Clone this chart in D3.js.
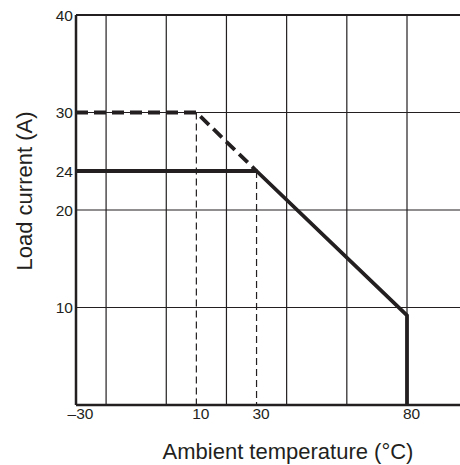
<!DOCTYPE html>
<html><head><meta charset="utf-8">
<script src="https://cdn.jsdelivr.net/npm/d3@7"></script>
<style>body{margin:0;background:#fff}svg{display:block}text{font-family:"Liberation Sans",Arial,sans-serif;fill:#231f20}</style>
</head><body>
<script>
const xTicks = [-30, 10, 30, 80];
const xGrid = [-20, 0, 20, 40, 60, 80];
const yTicks = [10, 20, 24, 30, 40];
const yGrid = [10, 20, 30, 40];
const solidTemp = [-30, 30, 80, 80];
const solidCurrent = [24, 24, 9.2, 0];
const dashedTemp = [-30, 10, 30];
const dashedCurrent = [30, 30, 24];
const guideTemp = [10, 30];
const guideCurrent = [30, 24];

const W = 460, H = 465;
const svg = d3.select("body").append("svg").attr("width", W).attr("height", H);
const x = d3.scaleLinear().domain([-30, 80]).range([76, 407]);
const y = d3.scaleLinear().domain([0, 40]).range([405, 15]);
const ink = "#231f20";

// grid
svg.append("g").selectAll("line").data(xGrid).join("line")
  .attr("x1", d => x(d)).attr("x2", d => x(d)).attr("y1", y(40)).attr("y2", y(0))
  .attr("stroke", ink).attr("stroke-width", 1.2);
svg.append("g").selectAll("line").data(yGrid).join("line")
  .attr("x1", x(-30)).attr("x2", W).attr("y1", d => y(d)).attr("y2", d => y(d))
  .attr("stroke", ink).attr("stroke-width", d => d === 40 ? 2 : 1.2);

// guide dashed verticals
svg.append("g").selectAll("line").data(guideTemp).join("line")
  .attr("x1", d => x(d)).attr("x2", d => x(d))
  .attr("y1", (d, i) => y(guideCurrent[i])).attr("y2", y(0))
  .attr("stroke", ink).attr("stroke-width", 1.2).attr("stroke-dasharray", "7,4");

// axes
const xAxis = d3.axisBottom(x).tickValues(xTicks).tickSize(0).tickFormat(d => d < 0 ? "\u2013" + Math.abs(d) : d);
const gx = svg.append("g").attr("transform", `translate(0,${y(0)})`).call(xAxis);
gx.select(".domain").attr("stroke", ink).attr("stroke-width", 2.5).attr("d", `M${x(-30)},0H${W}`);
gx.selectAll("text").attr("font-size", 15.5).attr("dy", 0).attr("y", 14).attr("dx", 4).attr("fill", ink);

const yAxis = d3.axisLeft(y).tickValues(yTicks).tickSize(0);
const gy = svg.append("g").attr("transform", `translate(${x(-30)},0)`).call(yAxis);
gy.select(".domain").attr("stroke", ink).attr("stroke-width", 2.5).attr("d", `M0,${y(40)}V${y(0)}`);
gy.selectAll("text").attr("font-size", 15.5).attr("x", -3).attr("dy", "0.35em").attr("fill", ink);

// data lines
const line = d3.line().x(d => x(d[0])).y(d => y(d[1]));
svg.append("path").datum(dashedTemp.map((t, i) => [t, dashedCurrent[i]]))
  .attr("d", line).attr("fill", "none").attr("stroke", ink).attr("stroke-width", 3.8)
  .attr("stroke-dasharray", "12,6");
svg.append("path").datum(solidTemp.map((t, i) => [t, solidCurrent[i]]))
  .attr("d", line).attr("fill", "none").attr("stroke", ink).attr("stroke-width", 3.8)
  .attr("stroke-linejoin", "round");

// titles
svg.append("text").attr("transform", `translate(32,191) rotate(-90)`)
  .attr("text-anchor", "middle").attr("font-size", 22).text("Load current (A)");
svg.append("text").attr("x", 288).attr("y", 459).attr("text-anchor", "middle")
  .attr("font-size", 22).text("Ambient temperature (\u00B0C)");
</script>
</body></html>
